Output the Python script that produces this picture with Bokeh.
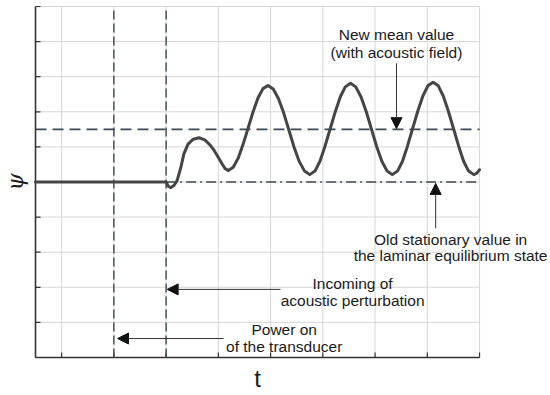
import math
from bokeh.plotting import figure
from bokeh.models import Range1d, Label, Arrow, NormalHead
from bokeh.embed import file_html
from bokeh.resources import INLINE

# ---- data ----
t_vals = [-0.5, 2.0, 2.04, 2.09, 2.15, 2.21, 2.28, 2.34, 2.42, 2.52,
          2.63, 2.74, 2.84, 2.92, 3.0, 3.07, 3.13, 3.19, 3.285, 3.38,
          3.475, 3.57, 3.665, 3.76, 3.855, 3.95, 4.05, 4.15, 4.25, 4.35,
          4.45, 4.55, 4.65, 4.75, 4.85, 4.945, 5.04, 5.14, 5.24, 5.335,
          5.43, 5.53, 5.63, 5.73, 5.83, 5.93, 6.03, 6.13, 6.23, 6.33,
          6.43, 6.525, 6.62, 6.72, 6.82, 6.915, 7.01, 7.11, 7.21, 7.305,
          7.40, 7.50, 7.60, 7.695, 7.79, 7.89, 7.95, 8.0]
psi_vals = [5.0, 5.0, 4.88, 4.84, 4.90, 5.04, 5.40, 5.80, 6.08, 6.22,
            6.26, 6.20, 6.06, 5.90, 5.70, 5.52, 5.38, 5.33, 5.42, 5.68,
            6.08, 6.54, 7.00, 7.40, 7.66, 7.75, 7.65, 7.38, 6.97, 6.48,
            5.99, 5.58, 5.31, 5.21, 5.31, 5.59, 6.01, 6.51, 7.01, 7.43,
            7.71, 7.81, 7.71, 7.43, 7.01, 6.51, 6.01, 5.59, 5.31, 5.21,
            5.31, 5.59, 6.02, 6.53, 7.03, 7.45, 7.74, 7.84, 7.74, 7.45,
            7.03, 6.53, 6.02, 5.59, 5.31, 5.21, 5.25, 5.35]
old_value = 5.0
new_mean = 6.5
power_on_t = 1.0
incoming_t = 2.0
x_ticks = [0, 1, 2, 3, 4, 5, 6, 7, 8]
y_ticks = [0, 1, 2, 3, 4, 5, 6, 7, 8, 9, 10]
t_min, t_max = -0.5, 8.0
psi_min, psi_max = 0, 10

FONT = "Liberation Sans"
DASH_COLOR = "#3c4a55"
GRID_COLOR = "#d6d6d6"
AXIS_COLOR = "#333333"
TICK_X = 0.096   # 5 px inward tick, in t units
TICK_Y = 0.142   # 5 px inward tick, in psi units

# the frame fills the whole canvas
p = figure(width=550, height=395, output_backend="svg", toolbar_location=None,
           x_range=Range1d(-1.170, 9.358), y_range=Range1d(-1.083, 10.171),
           x_axis_type=None, y_axis_type=None,
           min_border_left=0, min_border_right=0, min_border_top=0,
           min_border_bottom=0)
p.background_fill_color = "white"
p.border_fill_color = "white"
p.outline_line_color = None

# grid (bounded to the plotting box)
p.segment(x0=[t_min] * len(y_ticks), x1=[t_max] * len(y_ticks),
          y0=y_ticks, y1=y_ticks, line_color=GRID_COLOR, line_width=1)
p.segment(x0=x_ticks, x1=x_ticks, y0=[psi_min] * len(x_ticks),
          y1=[psi_max] * len(x_ticks), line_color=GRID_COLOR, line_width=1)

# axis lines with inward ticks
p.line([t_min, t_min], [psi_min, psi_max], line_color=AXIS_COLOR, line_width=1.6)
p.line([t_min, t_max], [psi_min, psi_min], line_color=AXIS_COLOR, line_width=1.6)
p.segment(x0=[t_min] * len(y_ticks), x1=[t_min + TICK_X] * len(y_ticks),
          y0=y_ticks, y1=y_ticks, line_color=AXIS_COLOR, line_width=1.2)
p.segment(x0=x_ticks, x1=x_ticks, y0=[psi_min] * len(x_ticks),
          y1=[psi_min + TICK_Y] * len(x_ticks), line_color=AXIS_COLOR,
          line_width=1.2)

# axis titles
p.add_layout(Label(x=(t_min + t_max) / 2, y=-0.60, text="t", text_font=FONT,
                   text_font_size="24px", text_color="#1a1a1a",
                   text_align="center", text_baseline="middle"))
p.add_layout(Label(x=-0.88, y=old_value, text="ψ", text_font="DejaVu Serif",
                   text_font_size="22px", text_font_style="italic",
                   text_color="#1a1a1a", text_align="center",
                   text_baseline="middle", angle=math.pi / 2))

# reference lines
p.line([t_min, t_max], [new_mean, new_mean], line_color=DASH_COLOR,
       line_width=1.6, line_dash="11 6")
p.line([incoming_t, t_max], [old_value, old_value], line_color=DASH_COLOR,
       line_width=1.6, line_dash="10 4 2 4")
p.line([power_on_t, power_on_t], [psi_min, psi_max], line_color=DASH_COLOR,
       line_width=1.4, line_dash="9 4")
p.line([incoming_t, incoming_t], [psi_min, psi_max], line_color=DASH_COLOR,
       line_width=1.4, line_dash="9 4")

# signal
p.line(t_vals, psi_vals, line_color="#454545", line_width=3, line_join="round",
       line_cap="round")

# annotations
def lab(x, y, txt):
    p.add_layout(Label(x=x, y=y, text=txt, text_font=FONT, text_font_size="15.5px",
                       text_color="#1a1a1a", text_align="center",
                       text_baseline="middle"))

def arr(x0, y0, x1, y1):
    p.add_layout(Arrow(x_start=x0, y_start=y0, x_end=x1, y_end=y1,
                       line_color=AXIS_COLOR, line_width=1,
                       end=NormalHead(size=11, fill_color="#111111",
                                      line_color="#111111", line_width=1)))

lab(6.41, 9.19, "New mean value")
lab(6.41, 8.68, "(with acoustic field)")
arr(6.41, 8.38, 6.41, new_mean + 0.02)

lab(7.445, 3.36, "Old stationary value in")
lab(7.445, 2.91, "the laminar equilibrium state")
arr(7.16, 3.68, 7.16, old_value - 0.04)

lab(5.57, 2.11, "Incoming of")
lab(5.57, 1.62, "acoustic perturbation")
arr(4.19, 1.94, incoming_t + 0.02, 1.94)

lab(4.26, 0.80, "Power on")
lab(4.26, 0.31, "of the transducer")
arr(3.10, 0.54, power_on_t + 0.07, 0.54)

open("out.html", "w").write(file_html(p, INLINE))
